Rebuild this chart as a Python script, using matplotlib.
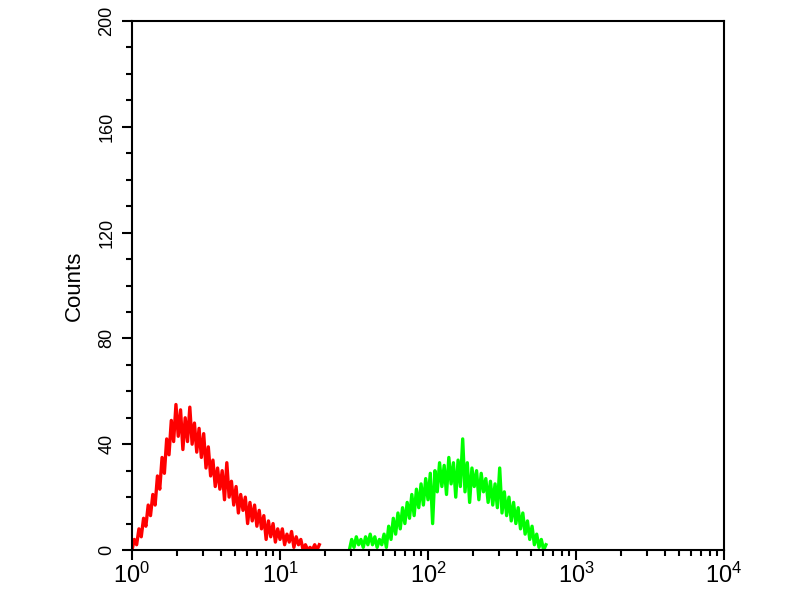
import numpy as np
import matplotlib
matplotlib.use('Agg')
import matplotlib.pyplot as plt
from matplotlib.ticker import FixedLocator, FuncFormatter, LogLocator, NullFormatter

plt.rcParams['font.family'] = ['Liberation Sans', 'DejaVu Sans']
plt.rcParams['mathtext.fontset'] = 'custom'
plt.rcParams['mathtext.rm'] = 'Liberation Sans'
plt.rcParams['mathtext.it'] = 'Liberation Sans'

# channel data (1024 channels over 4 decades, every 4th channel)
chan_step = 4
red_start = 0
red_counts = [0, 4, 2, 8, 5, 12, 9, 17, 13, 21, 17, 28, 23, 35, 29, 42, 36, 49, 41, 55,
              43, 53, 38, 50, 41, 54, 40, 48, 37, 46, 35, 44, 31, 39, 28, 34, 24, 31, 23, 30,
              19, 33, 20, 26, 17, 24, 14, 21, 15, 20, 10, 18, 11, 17, 9, 15, 8, 13, 4, 11,
              5, 10, 3, 8, 4, 8, 2, 6, 3, 7, 1, 5, 2, 4, 0, 2, 0, 1, 0, 2, 0, 2]
green_start = 376
green_counts = [0, 4, 1, 5, 2, 4, 1, 5, 2, 6, 2, 5, 1, 4, 2, 6, 1, 9, 4, 12,
                6, 14, 8, 16, 10, 18, 12, 21, 13, 23, 16, 25, 17, 27, 19, 29, 10, 30, 22, 33,
                24, 32, 21, 35, 25, 33, 20, 34, 24, 42, 22, 33, 18, 31, 24, 30, 19, 29, 22, 27,
                18, 26, 17, 25, 16, 31, 14, 22, 13, 20, 11, 18, 10, 16, 8, 14, 6, 11, 4, 9,
                2, 6, 1, 4, 0, 2]


def chan_to_fl(start, n):
    ch = start + chan_step * np.arange(n)
    return 10 ** (ch / 256.0)


fig = plt.figure(figsize=(8, 6), dpi=100)
ax = fig.add_axes([0.165, 0.0833, 0.74, 0.8817])

ax.plot(chan_to_fl(red_start, len(red_counts)), red_counts, color='#ff0000', lw=2.4)
ax.plot(chan_to_fl(green_start, len(green_counts)), green_counts, color='#00ff00', lw=2.4)

ax.set_xscale('log')
ax.set_xlim(1, 1e4)
ax.set_ylim(0, 200)

ax.xaxis.set_major_locator(FixedLocator([1, 10, 100, 1000, 10000]))
ax.xaxis.set_minor_locator(LogLocator(base=10, subs=np.arange(2, 10), numticks=20))
ax.xaxis.set_minor_formatter(NullFormatter())
ax.xaxis.set_major_formatter(FuncFormatter(lambda v, p: r'$\mathregular{10^{%d}}$' % round(np.log10(v))))

ax.yaxis.set_major_locator(FixedLocator([0, 40, 80, 120, 160, 200]))
ax.yaxis.set_minor_locator(FixedLocator(np.arange(0, 201, 10)))

ax.tick_params(axis='both', which='major', direction='out', length=7, width=1.5, colors='black')
ax.tick_params(axis='both', which='minor', direction='out', length=4, width=1.5)
ax.tick_params(axis='x', which='major', labelsize=17, pad=2)
ax.tick_params(axis='y', which='major', labelsize=13, pad=5)
for lab in ax.get_yticklabels():
    lab.set_rotation(90)
    lab.set_va('center')

for s in ax.spines.values():
    s.set_linewidth(1.5)

ax.set_ylabel('Counts', fontsize=16, labelpad=10)

fig.savefig('out.png', dpi=100)
